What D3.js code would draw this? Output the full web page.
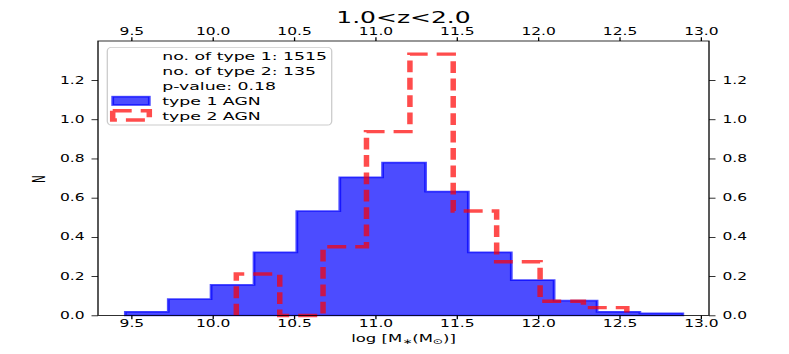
<!DOCTYPE html>
<html>
<head>
<meta charset="utf-8">
<script src="https://cdn.jsdelivr.net/npm/d3@7"></script>
<style>
  html, body { margin: 0; padding: 0; background: #ffffff; }
  svg { display: block; }
  text { font-family: "DejaVu Sans", sans-serif; fill: #000; }
</style>
</head>
<body>
<svg id="chart" width="789" height="354"></svg>
<script>
// ---------------- data ----------------
const titleText = "1.0<z<2.0";
const xTickValues = [9.5, 10.0, 10.5, 11.0, 11.5, 12.0, 12.5, 13.0];
const yTickValues = [0.0, 0.2, 0.4, 0.6, 0.8, 1.0, 1.2];
const xDomain = [9.295, 13.05];
const yDomain = [0, 1.40];

// type 1 AGN (stepfilled histogram, density)
const type1Edges = [9.463, 9.727, 9.990, 10.254, 10.517, 10.781, 11.044, 11.308, 11.571, 11.835, 12.098, 12.362, 12.625, 12.889];
const type1Values = [0.019, 0.083, 0.156, 0.322, 0.532, 0.705, 0.780, 0.632, 0.322, 0.181, 0.0755, 0.019, 0.011];

// type 2 AGN (step histogram, dashed)
const type2Edges = [10.145, 10.412, 10.678, 10.945, 11.212, 11.478, 11.745, 12.012, 12.278, 12.545];
const type2Values = [0.212, 0.0, 0.351, 0.938, 1.333, 0.533, 0.274, 0.073, 0.040];

const legendLines = ["no. of type 1: 1515", "no. of type 2: 135", "p-value: 0.18", "type 1 AGN", "type 2 AGN"];

// ---------------- layout ----------------
const S = 0.62;                 // vertical squash of the original figure
const vy = v => v / S;          // real pixel y -> virtual y
const plot = { left: 98, right: 709, top: 41, bottom: 315.5 };

const svg = d3.select("#chart");
const g = svg.append("g").attr("transform", `scale(1,${S})`);

const x = d3.scaleLinear().domain(xDomain).range([plot.left, plot.right]);
const y = d3.scaleLinear().domain(yDomain).range([vy(plot.bottom), vy(plot.top)]);

const blue = "rgba(0,0,255,0.7)";
const red = "rgba(255,0,0,0.7)";

// ---------------- histograms ----------------
const t1pts = type1Edges.map((e, i) => [e, type1Values[Math.min(i, type1Values.length - 1)]]);
const area = d3.area().curve(d3.curveStepAfter)
  .x(d => x(d[0])).y0(y(0)).y1(d => y(d[1]));
g.append("path").datum(t1pts)
  .attr("d", area)
  .attr("fill", blue)
  .attr("stroke", blue)
  .attr("stroke-width", 2.8)
  .attr("stroke-linejoin", "miter");

const t2pts = [[type2Edges[0], 0]]
  .concat(type2Edges.map((e, i) => [e, type2Values[Math.min(i, type2Values.length - 1)]]))
  .concat([[type2Edges[type2Edges.length - 1], 0]]);
const line = d3.line().curve(d3.curveStepAfter).x(d => x(d[0])).y(d => y(d[1]));
g.append("path").datum(t2pts)
  .attr("d", line)
  .attr("fill", "none")
  .attr("stroke", red)
  .attr("stroke-width", 5.5)
  .attr("stroke-dasharray", "19 9")
  .attr("stroke-linejoin", "miter");

// ---------------- axes ----------------
const fmt = d3.format(".1f");
const tickFont = 15.5;
function styleAxis(sel) {
  sel.select(".domain").remove();
  sel.selectAll("line").attr("stroke", "#000").attr("stroke-width", 1.3);
  sel.selectAll("text").style("font-family", "DejaVu Sans").style("font-size", tickFont + "px").attr("fill", "#000");
}
g.append("g").attr("transform", `translate(0,${y(0)})`)
  .call(d3.axisBottom(x).tickValues(xTickValues).tickFormat(fmt).tickSize(6).tickPadding(2))
  .call(styleAxis);
g.append("g").attr("transform", `translate(0,${y(yDomain[1])})`)
  .call(d3.axisTop(x).tickValues(xTickValues).tickFormat(fmt).tickSize(6).tickPadding(3))
  .call(styleAxis);
g.append("g").attr("transform", `translate(${plot.left},0)`)
  .call(d3.axisLeft(y).tickValues(yTickValues).tickFormat(fmt).tickSize(6.5).tickPadding(7))
  .call(styleAxis);
g.append("g").attr("transform", `translate(${plot.right},0)`)
  .call(d3.axisRight(y).tickValues(yTickValues).tickFormat(fmt).tickSize(6.5).tickPadding(7))
  .call(styleAxis);

// frame
g.append("rect")
  .attr("x", x(xDomain[0])).attr("y", y(yDomain[1]))
  .attr("width", x(xDomain[1]) - x(xDomain[0]))
  .attr("height", y(0) - y(yDomain[1]))
  .attr("fill", "none").attr("stroke", "#000").attr("stroke-width", 1.3);

// ---------------- title and labels ----------------
g.append("text").attr("x", (plot.left + plot.right) / 2).attr("y", vy(22.7))
  .attr("text-anchor", "middle").style("font-size", "25px").text(titleText);

const xl = g.append("text").attr("x", (plot.left + plot.right) / 2).attr("y", vy(342))
  .attr("text-anchor", "middle").style("font-size", "16.5px");
xl.append("tspan").text("log [M");
xl.append("tspan").attr("dy", 4).style("font-size", "12px").text("\u2217");
xl.append("tspan").attr("dy", -4).text("(M");
xl.append("tspan").attr("dy", 4).style("font-size", "12px").text("\u2299");
xl.append("tspan").attr("dy", -4).text(")]");

g.append("text").attr("transform", `translate(45,${vy(179)}) rotate(-90)`)
  .attr("text-anchor", "middle").style("font-size", "17px").text("N");

// ---------------- legend ----------------
const lg = g.append("g");
lg.append("rect")
  .attr("x", 107.3).attr("y", vy(47.3))
  .attr("width", 331.7 - 107.3).attr("height", vy(125) - vy(47.3))
  .attr("rx", 4).attr("ry", 6)
  .attr("fill", "rgba(255,255,255,0.8)").attr("stroke", "#cccccc").attr("stroke-width", 1.3);
const baselines = [60, 75, 90, 105, 120];
lg.selectAll("text.leg").data(legendLines).enter().append("text")
  .attr("class", "leg")
  .attr("x", 162.3).attr("y", (d, i) => vy(baselines[i]))
  .style("font-size", "17.3px").text(d => d);
lg.append("rect").attr("x", 112.7).attr("y", vy(96.7))
  .attr("width", 149.3 - 112.7).attr("height", vy(105) - vy(96.7))
  .attr("fill", blue).attr("stroke", blue).attr("stroke-width", 2.8);
lg.append("rect").attr("x", 112.7).attr("y", vy(110.7))
  .attr("width", 149.3 - 112.7).attr("height", vy(120) - vy(110.7))
  .attr("fill", "none").attr("stroke", red).attr("stroke-width", 5.5)
  .attr("stroke-dasharray", "19 9");
</script>
</body>
</html>
